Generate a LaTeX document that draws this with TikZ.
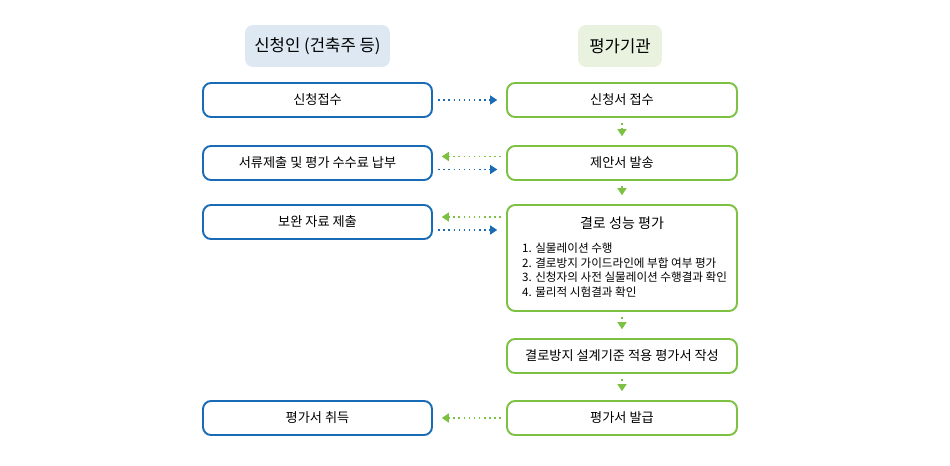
\documentclass[tikz,border=0pt]{standalone}
\usepackage{fontspec}
\setmainfont{Noto Sans CJK KR}
\usetikzlibrary{arrows.meta,calc}
\definecolor{bblue}{HTML}{1A6BB5}
\definecolor{ggreen}{HTML}{7DC142}
\definecolor{bfill}{HTML}{DDE8F3}
\definecolor{gfill}{HTML}{E8F2DF}
\tikzset{
  lbox/.style={draw=bblue, line width=1.1pt, rounded corners=0.16cm, minimum width=4.58cm, minimum height=0.68cm, font=\fontsize{7.5}{9}\selectfont},
  rbox/.style={lbox, draw=ggreen, minimum width=4.6cm},
  head/.style={rounded corners=0.16cm, minimum height=0.84cm, font=\fontsize{9.5}{11}\selectfont},
  bline/.style={bblue, line width=0.9pt, dotted, -{Triangle[length=4pt,width=5pt]}, shorten <=3pt, shorten >=5pt},
  gline/.style={bline, ggreen}
}
\begin{document}
\begin{tikzpicture}[x=0.02cm, y=-0.02cm]
    \useasboundingbox (0,0) rectangle (950,466);
    % headers
    \node[head, fill=bfill, minimum width=2.9cm] (hl) at (317.5,46) {신청인 (건축주 등)};
    \node[head, fill=gfill, minimum width=1.68cm] (hr) at (620,46) {평가기관};

    % left column
    \node[lbox] (l1) at (317.5,100) {신청접수};
    \node[lbox] (l2) at (317.5,163) {서류제출 및 평가 수수료 납부};
    \node[lbox] (l3) at (317.5,222) {보완 자료 제출};
    \node[lbox] (l5) at (317.5,418) {평가서 취득};

    % right column
    \node[rbox] (r1) at (622,100) {신청서 접수};
    \node[rbox] (r2) at (622,163) {제안서 발송};
    \node[rbox, minimum height=2.12cm] (r3) at (622,258) {};
    \node[font=\fontsize{8}{10}\selectfont] (r3t) at (622,223) {결로 성능 평가};
    \node[anchor=north west, align=left, font=\fontsize{6.6}{8.2}\selectfont] (r3l) at (516,237)
      {1. 실물레이션 수행\\2. 결로방지 가이드라인에 부합 여부 평가\\3. 신청자의 사전 실물레이션 수행결과 확인\\4. 물리적 시험결과 확인};
    \node[rbox] (r4) at (622,356) {결로방지 설계기준 적용 평가서 작성};
    \node[rbox] (r5) at (622,418) {평가서 발급};

    % horizontal arrows
    \draw[bline] (l1.east) -- (r1.west);
    \draw[gline] ([yshift=0.13cm]r2.west) -- ([yshift=0.13cm]l2.east);
    \draw[bline] ([yshift=-0.13cm]l2.east) -- ([yshift=-0.13cm]r2.west);
    \draw[gline] ($(r3.west |- l3.east)+(0,-5)$) -- ($(l3.east)+(0,-5)$);
    \draw[bline] ($(l3.east)+(0,8)$) -- ($(r3.west |- l3.east)+(0,8)$);
    \draw[gline] (r5.west) -- (l5.east);

    % vertical arrows
    \foreach \a/\b in {r1/r2, r2/r3, r3/r4, r4/r5}
        \draw[gline] (\a.south) -- (\b.north);
\end{tikzpicture}
\end{document}
